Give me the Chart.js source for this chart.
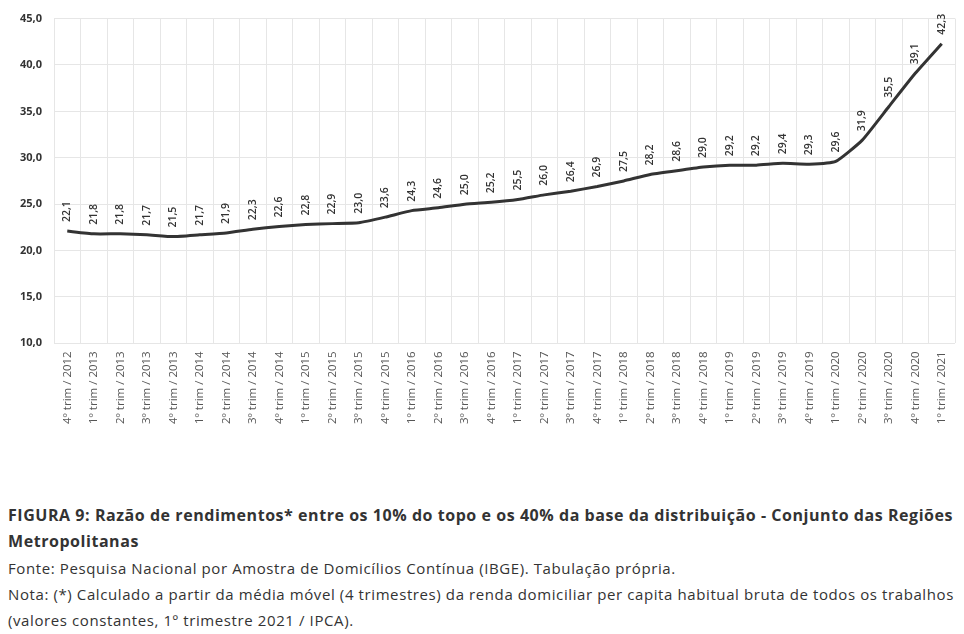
<!DOCTYPE html>
<html>
<head>
<meta charset="utf-8">
<script src="https://cdn.jsdelivr.net/npm/chart.js@4.4.1/dist/chart.umd.min.js"></script>
<style>
  html, body { margin: 0; padding: 0; background: #fff; }
  body { width: 964px; height: 634px; position: relative; overflow: hidden; font-family: "Open Sans", sans-serif; }
  #wrap { position: absolute; left: 0; top: 0; width: 964px; height: 434px; }
  .caption { position: absolute; left: 8px; width: 960px; color: #333; white-space: nowrap; }
  .title { top: 502px; font-size: 16px; font-weight: 700; line-height: 26px; letter-spacing: 0.55px; }
  .note { font-size: 15px; line-height: 26px; letter-spacing: 0.6px; }
</style>
</head>
<body>
<div id="wrap"><canvas id="chart"></canvas></div>
<div class="caption title">FIGURA 9: Razão de rendimentos* entre os 10% do topo e os 40% da base da distribuição - Conjunto das Regiões<br>Metropolitanas</div>
<div class="caption note" style="top:555px">Fonte: Pesquisa Nacional por Amostra de Domicílios Contínua (IBGE). Tabulação própria.<br>Nota: (*) Calculado a partir da média móvel (4 trimestres) da renda domiciliar per capita habitual bruta de todos os trabalhos<br>(valores constantes, 1º trimestre 2021 / IPCA).</div>
<script>
const quarters = ['4º trim / 2012',
  '1º trim / 2013', '2º trim / 2013', '3º trim / 2013', '4º trim / 2013',
  '1º trim / 2014', '2º trim / 2014', '3º trim / 2014', '4º trim / 2014',
  '1º trim / 2015', '2º trim / 2015', '3º trim / 2015', '4º trim / 2015',
  '1º trim / 2016', '2º trim / 2016', '3º trim / 2016', '4º trim / 2016',
  '1º trim / 2017', '2º trim / 2017', '3º trim / 2017', '4º trim / 2017',
  '1º trim / 2018', '2º trim / 2018', '3º trim / 2018', '4º trim / 2018',
  '1º trim / 2019', '2º trim / 2019', '3º trim / 2019', '4º trim / 2019',
  '1º trim / 2020', '2º trim / 2020', '3º trim / 2020', '4º trim / 2020',
  '1º trim / 2021'];
const ratio = [22.1, 21.8, 21.8, 21.7, 21.5, 21.7, 21.9, 22.3, 22.6, 22.8, 22.9, 23.0,
  23.6, 24.3, 24.6, 25.0, 25.2, 25.5, 26.0, 26.4, 26.9, 27.5, 28.2, 28.6,
  29.0, 29.2, 29.2, 29.4, 29.3, 29.6, 31.9, 35.5, 39.1, 42.3];
const yMin = 10, yMax = 45, yStep = 5;

const fmt = (v) => v.toFixed(1).replace('.', ',');

// rotated value labels above each point
const valueLabels = {
  id: 'valueLabels',
  afterDatasetsDraw(chart) {
    const ctx = chart.ctx;
    const meta = chart.getDatasetMeta(0);
    ctx.save();
    ctx.font = '600 10.5px "Open Sans", sans-serif';
    ctx.fillStyle = '#333';
    ctx.textAlign = 'left';
    ctx.textBaseline = 'middle';
    meta.data.forEach((pt, i) => {
      ctx.save();
      ctx.translate(pt.x, pt.y - 9);
      ctx.rotate(-Math.PI / 2);
      ctx.fillText(fmt(ratio[i]), 0, 0);
      ctx.restore();
    });
    ctx.restore();
  }
};

new Chart(document.getElementById('chart'), {
  type: 'line',
  data: {
    labels: quarters,
    datasets: [{
      data: ratio,
      borderColor: '#333',
      borderWidth: 3,
      pointRadius: 0,
      tension: 0.15,
      clip: false
    }]
  },
  options: {
    responsive: true,
    maintainAspectRatio: false,
    animation: false,
    layout: { padding: { top: 13, right: 9, left: 8, bottom: 2 } },
    plugins: { legend: { display: false }, tooltip: { enabled: false } },
    scales: {
      y: {
        min: yMin,
        max: yMax,
        ticks: {
          stepSize: yStep,
          callback: (v) => fmt(v),
          font: { size: 11, weight: 'bold', family: '"Open Sans", sans-serif' },
          color: '#333',
          padding: 12
        },
        grid: { color: '#e6e6e6', drawTicks: false },
        border: { display: false }
      },
      x: {
        offset: true,
        ticks: {
          minRotation: 90,
          maxRotation: 90,
          autoSkip: false,
          font: { size: 11.5, family: '"Open Sans", sans-serif' },
          color: '#555',
          padding: 8
        },
        grid: { color: '#e6e6e6', offset: true, drawTicks: false },
        border: { display: false }
      }
    }
  },
  plugins: [valueLabels]
});
</script>
</body>
</html>
